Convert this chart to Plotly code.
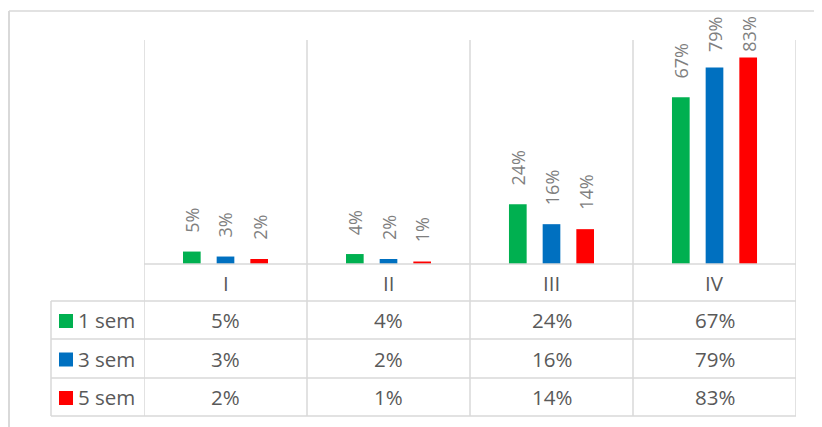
import plotly.graph_objects as go

# ---- data ----
categories = ["I", "II", "III", "IV"]
series_names = ["1 sem", "3 sem", "5 sem"]
sem1 = [0.05, 0.04, 0.24, 0.67]
sem3 = [0.03, 0.02, 0.16, 0.79]
sem5 = [0.02, 0.01, 0.14, 0.83]
series_values = [sem1, sem3, sem5]
series_colors = ["#00B050", "#0070C0", "#FF0000"]

# ---- layout geometry (page pixels) ----
OFF = 8  # default page body margin
W, H = 822, 427
PL, PR, PT, PB = 144, 796, 40, 264
ROW_LINES = [301, 339, 378, 416]
TABLE_LEFT = 51
GRID = "#D9D9D9"
TXT = "#595959"
LBL = "#7F7F7F"
FONT = "Open Sans"
FS = 20.5
FS_LBL = 18
BARGAP, GROUPGAP = 0.38, 0.475
YMAX = 0.9
GAP_PX = 17
LABEL_BOTTOM_MAX_PX = 54


def pxx(px):
    return (px - PL) / (PR - PL)


def pxy(py):
    return (PB - py) / (PB - PT)


fig = go.Figure()
xi = list(range(len(categories)))
for name, vals, col in zip(series_names, series_values, series_colors):
    fig.add_bar(x=xi, y=vals, name=name, marker_color=col,
                marker_line_width=0, showlegend=False, hoverinfo="skip")

n = len(series_names)
slot = (1 - BARGAP) / n
data_per_px = YMAX / (PB - PT)
cap = (PB - LABEL_BOTTOM_MAX_PX) * data_per_px - GAP_PX * data_per_px
ann = []
for j, vals in enumerate(series_values):
    off = (j - (n - 1) / 2) * slot
    for i, v in enumerate(vals):
        ann.append(dict(x=i + off, y=min(v, cap), xref="x", yref="y",
                        text=f"{round(v * 100)}%", textangle=-90,
                        yanchor="bottom", xanchor="center", yshift=GAP_PX,
                        showarrow=False, font=dict(family=FONT, size=FS_LBL, color=LBL)))

# category header row
hdr_y = pxy((PB + ROW_LINES[0]) / 2)
for i, c in enumerate(categories):
    ann.append(dict(x=i, y=hdr_y, xref="x", yref="paper", text=c, showarrow=False,
                    yanchor="middle", font=dict(family=FONT, size=FS, color=TXT)))

# table rows
shapes = []
for r, (name, vals, col) in enumerate(zip(series_names, series_values, series_colors)):
    top, bot = ROW_LINES[r], ROW_LINES[r + 1]
    mid = (top + bot) / 2
    cy = pxy(mid)
    for i, v in enumerate(vals):
        ann.append(dict(x=i, y=cy, xref="x", yref="paper", text=f"{round(v * 100)}%",
                        yanchor="middle", showarrow=False,
                        font=dict(family=FONT, size=FS, color=TXT)))
    ann.append(dict(x=pxx(76), y=cy, xref="paper", yref="paper", text=name,
                    xanchor="left", yanchor="middle", showarrow=False,
                    font=dict(family=FONT, size=FS, color=TXT)))
    shapes.append(dict(type="rect", xref="paper", yref="paper",
                       x0=pxx(59), x1=pxx(73), y0=pxy(mid - 6), y1=pxy(mid + 8),
                       fillcolor=col, line=dict(width=0)))

lw = 1.5
# baseline
shapes.append(dict(type="line", xref="paper", yref="paper", x0=0, x1=1, y0=0, y1=0,
                   line=dict(color=GRID, width=lw)))
# vertical category boundaries
for k in range(len(categories) + 1):
    shapes.append(dict(type="line", xref="x", yref="paper", x0=k - 0.5, x1=k - 0.5,
                       y0=1, y1=pxy(ROW_LINES[-1]), line=dict(color=GRID, width=lw)))
# horizontal table lines
for yl in ROW_LINES:
    shapes.append(dict(type="line", xref="paper", yref="paper", x0=pxx(TABLE_LEFT), x1=1,
                       y0=pxy(yl), y1=pxy(yl), line=dict(color=GRID, width=lw)))
shapes.append(dict(type="line", xref="paper", yref="paper", x0=pxx(TABLE_LEFT), x1=pxx(TABLE_LEFT),
                   y0=pxy(ROW_LINES[0]), y1=pxy(ROW_LINES[-1]), line=dict(color=GRID, width=lw)))
# outer chart frame
shapes.append(dict(type="line", xref="paper", yref="paper", x0=pxx(9), x1=pxx(9),
                   y0=pxy(11), y1=pxy(H + 10), line=dict(color=GRID, width=2)))
shapes.append(dict(type="line", xref="paper", yref="paper", x0=pxx(9), x1=pxx(W + 10),
                   y0=pxy(11), y1=pxy(11), line=dict(color=GRID, width=lw)))

fig.update_layout(
    width=W - OFF, height=H - OFF, autosize=False,
    margin=dict(l=PL - OFF, r=W - PR, t=PT - OFF, b=H - PB, pad=0),
    paper_bgcolor="white", plot_bgcolor="white",
    barmode="group", bargap=BARGAP, bargroupgap=GROUPGAP,
    xaxis=dict(range=[-0.5, len(categories) - 0.5], showticklabels=False, showgrid=False,
               zeroline=False, showline=False, fixedrange=True),
    yaxis=dict(range=[0, YMAX], visible=False, showgrid=False, zeroline=False, fixedrange=True),
    annotations=ann, shapes=shapes,
    font=dict(family=FONT, color=TXT),
)

fig.write_html("out.html")
